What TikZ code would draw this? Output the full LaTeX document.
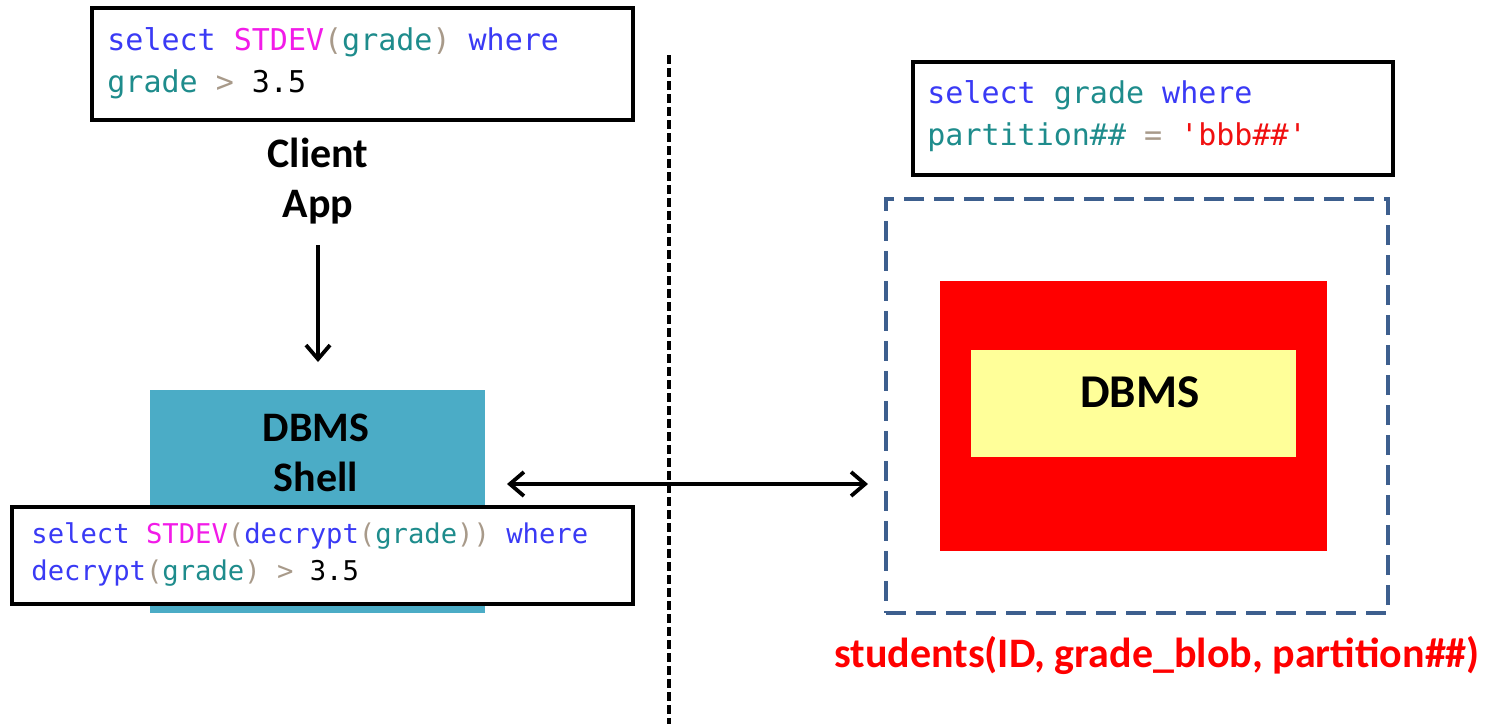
\documentclass[tikz,border=0pt]{standalone}
\usepackage{fontspec}
\setmainfont{Carlito}
\newfontfamily\codefont{DejaVu Sans Mono}
\usetikzlibrary{arrows.meta}
\definecolor{kwblue}{HTML}{3A3AF5}
\definecolor{fnmag}{HTML}{F21BE8}
\definecolor{idteal}{HTML}{1E8C8C}
\definecolor{punc}{HTML}{A89A8A}
\definecolor{strred}{HTML}{F01010}
\definecolor{shellteal}{HTML}{4BACC6}
\definecolor{dashblue}{HTML}{3D5F8E}
\definecolor{dbyellow}{HTML}{FFFF99}
\newcommand{\kw}[1]{\textcolor{kwblue}{#1}}
\newcommand{\fn}[1]{\textcolor{fnmag}{#1}}
\newcommand{\id}[1]{\textcolor{idteal}{#1}}
\newcommand{\pc}[1]{\textcolor{punc}{#1}}
\newcommand{\st}[1]{\textcolor{strred}{#1}}
\tikzset{
  codebox/.style={draw=black, line width=1.8pt, fill=white},
  codetext/.style={anchor=west, inner sep=0pt, align=left, font=\codefont\fontsize{15}{21}\selectfont},
  smallcode/.style={anchor=west, inner sep=0pt, align=left, font=\codefont\fontsize{13.6}{18.5}\selectfont},
  label/.style={align=center, inner sep=0pt, font=\bfseries\fontsize{21}{25}\selectfont},
  arr/.style={line width=1.9pt, -{Straight Barb[length=7pt,width=12pt,line width=1.9pt]}},
  darr/.style={line width=1.9pt, {Straight Barb[length=7pt,width=12pt,line width=1.9pt]}-{Straight Barb[length=7pt,width=12pt,line width=1.9pt]}}
}
\begin{document}
\begin{tikzpicture}[x=0.5pt,y=-0.5pt]
\useasboundingbox (0,0) rectangle (1493,724);
% divider
\coordinate (divtop) at (669,55);
\coordinate (divbot) at (669,724);
\draw[line width=1.6pt, dash pattern=on 4.5pt off 2pt] (divtop) -- (divbot);
% top-left query
\draw[codebox] (92,8) rectangle (633,120);
\node[codetext] (q1) at (107,63) {\kw{select} \fn{STDEV}\pc{(}\id{grade}\pc{)} \kw{where}\\\id{grade} \pc{>} 3.5};
% client app
\node[label] (client) at (318,181) {Client\\App};
% DBMS shell
\node[fill=shellteal, minimum width=167.5pt, minimum height=111.5pt, inner sep=0pt] (shell) at (317.5,501.5) {};
\node[label] (shelltxt) at (316,453) {DBMS\\Shell};
\coordinate (arrtop) at (318,245);
\coordinate (arrbot) at (318,362);
\draw[arr] (arrtop) -- (arrbot);
% bottom query
\draw[codebox] (12,507) rectangle (633,604);
\node[smallcode] (q2) at (31,555) {\kw{select} \fn{STDEV}\pc{(}\kw{decrypt}\pc{(}\id{grade}\pc{))} \kw{where}\\\kw{decrypt}\pc{(}\id{grade}\pc{)} \pc{>} 3.5};
% right side
\draw[codebox] (913,62) rectangle (1393,175);
\node[codetext] (q3) at (927,116) {\kw{select} \id{grade} \kw{where}\\\id{partition\#\#} \pc{=} \st{'bbb\#\#'}};
\node[draw=dashblue, line width=2.4pt, dash pattern=on 10pt off 5pt, minimum width=251pt, minimum height=207pt, inner sep=0pt] (server) at (1137,406) {};
\node[fill=red, minimum width=193.5pt, minimum height=135pt, inner sep=0pt] (enc) at (1133.5,416) {};
\node[fill=dbyellow, minimum width=162.5pt, minimum height=53.5pt, inner sep=0pt] (dbms) at (1133.5,403.5) {};
\node[font=\bfseries\fontsize{23.5}{28}\selectfont, inner sep=0pt] (dbmstxt) at (1140,392) {DBMS};
\node[label, text=red] (schema) at (1157,655) {students(ID, grade\_blob, partition\#\#)};
% double arrow
\coordinate (dl) at (507,484);
\coordinate (dr) at (868,484);
\draw[darr] (dl) -- (dr);
\end{tikzpicture}
\end{document}
